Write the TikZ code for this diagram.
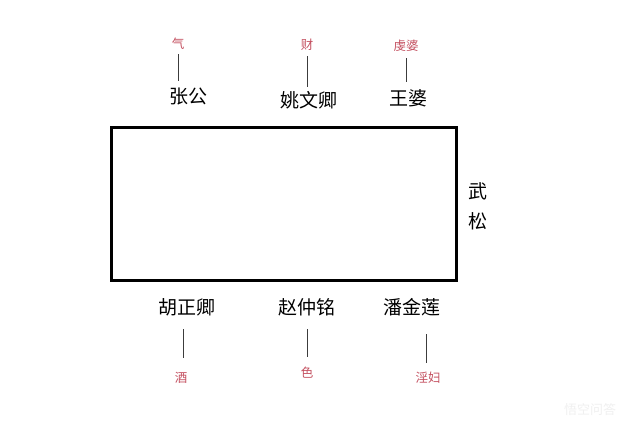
\documentclass[tikz,border=0pt]{standalone}
\usepackage{fontspec}
\newfontfamily\cjk{Noto Sans CJK SC}
\definecolor{redlbl}{RGB}{196,80,96}
\definecolor{stick}{RGB}{60,60,60}
\begin{document}
\begin{tikzpicture}[x=1pt,y=-1pt,
  person/.style={font=\cjk\fontsize{19}{19}\selectfont, inner sep=0pt, text=black},
  traitlbl/.style={font=\cjk\fontsize{12.5}{12.5}\selectfont, inner sep=0pt, text=redlbl},
  stickline/.style={draw=stick, line width=1pt}]
\useasboundingbox[fill=white] (0,0) rectangle (640,429);
\node[draw=black, line width=3pt, minimum width=345pt, minimum height=153pt, inner sep=0pt] (box) at (284,204) {};
% top
\node[traitlbl] (qi) at (178,44) {气};
\node[person] (zg) at (188,97) {张公};
\coordinate (zgt) at (178,54); \coordinate (zgb) at (178,81);
\draw[stickline] (zgt) -- (zgb);
\node[traitlbl] (cai) at (307,45) {财};
\node[person] (ywq) at (309,100) {姚文卿};
\coordinate (ywt) at (307,56); \coordinate (ywb) at (307,87);
\draw[stickline] (ywt) -- (ywb);
\node[traitlbl] (qp) at (406,46) {虔婆};
\node[person] (wp) at (408,98) {王婆};
\coordinate (wpt) at (406,58); \coordinate (wpb) at (406,82);
\draw[stickline] (wpt) -- (wpb);
% right
\node[person] (wu) at (478,191) {武};
\node[person] (song) at (478,221) {松};
% bottom
\node[person] (hzq) at (187,307) {胡正卿};
\coordinate (ht) at (183,329); \coordinate (hb) at (183,358);
\draw[stickline] (ht) -- (hb);
\node[traitlbl] (jiu) at (181,378) {酒};
\node[person] (zzm) at (307,307) {赵仲铭};
\coordinate (zt) at (307,329); \coordinate (zb) at (307,357);
\draw[stickline] (zt) -- (zb);
\node[traitlbl] (se) at (307,373) {色};
\node[person] (pjl) at (412,307) {潘金莲};
\coordinate (pt) at (426,334); \coordinate (pb) at (426,363);
\draw[stickline] (pt) -- (pb);
\node[traitlbl] (yf) at (428,378) {淫妇};
% watermark
\node[font=\cjk\fontsize{13}{13}\selectfont, text=black!6, inner sep=0pt] (wm) at (590,410) {悟空问答};
\end{tikzpicture}
\end{document}
